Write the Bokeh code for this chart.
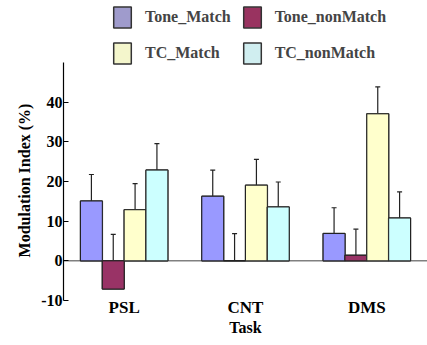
from bokeh.plotting import figure
from bokeh.models import (ColumnDataSource, FactorRange, Whisker, TeeHead, Span,
                          Legend, LegendItem)
from bokeh.transform import dodge
from bokeh.embed import file_html
from bokeh.resources import INLINE

tasks = ["PSL", "CNT", "DMS"]
series = ["Tone_Match", "Tone_nonMatch", "TC_Match", "TC_nonMatch"]
tone_match = [15.1, 16.3, 6.9]
tone_match_err = [6.7, 6.6, 6.5]
tone_nonmatch = [-7.1, 0.0, 1.4]
tone_nonmatch_err = [13.8, 6.9, 6.6]
tc_match = [12.9, 19.1, 37.1]
tc_match_err = [6.6, 6.5, 6.8]
tc_nonmatch = [22.9, 13.6, 10.8]
tc_nonmatch_err = [6.7, 6.3, 6.6]
y_ticks = [-10, 0, 10, 20, 30, 40]
y_tick_labels = ["-10", "0", "10", "20", "30", "40"]

values = [tone_match, tone_nonmatch, tc_match, tc_nonmatch]
errors = [tone_match_err, tone_nonmatch_err, tc_match_err, tc_nonmatch_err]
bar_colors = ["#9999ff", "#993366", "#ffffcc", "#ccffff"]
legend_colors = ["#9f9bcc", "#993360", "#f4f6cc", "#d0eef0"]
offsets = [-0.27, -0.09, 0.09, 0.27]
bar_w = 0.18

FONT = "Liberation Serif"

# frame spans whole height above x labels; axis itself bounded to -10..50
p = figure(width=427, height=345, x_range=FactorRange(*tasks, range_padding=0),
           y_range=(-10, 65.7), output_backend="svg", toolbar_location=None,
           min_border_left=63, min_border_right=0, min_border_top=0,
           min_border_bottom=45)
p.outline_line_color = None
p.xgrid.grid_line_color = None
p.ygrid.grid_line_color = None

zero = Span(location=0, dimension="width", line_color="#808080", line_width=1.5,
            level="underlay")
p.add_layout(zero)

legend_renderers = []
for s, vals, errs, col, lcol, off in zip(series, values, errors, bar_colors,
                                         legend_colors, offsets):
    src = ColumnDataSource(dict(task=tasks, val=vals,
                                upper=[v + e for v, e in zip(vals, errs)]))
    w = Whisker(source=src, base=dodge("task", off, range=p.x_range),
                lower="val", upper="upper", dimension="height",
                line_color="#222222", line_width=1.2, level="underlay",
                upper_head=TeeHead(size=5, line_color="#222222", line_width=1.2),
                lower_head=None)
    p.add_layout(w)
    # legend swatch renderer (same bars, hidden beneath the visible ones)
    lr = p.vbar(x=dodge("task", off, range=p.x_range), top="val", bottom=0,
                width=bar_w, source=src, fill_color=lcol, line_color="#333333",
                line_width=1.5)
    legend_renderers.append(lr)
    p.vbar(x=dodge("task", off, range=p.x_range), top="val", bottom=0,
           width=bar_w, source=src, fill_color=col, line_color="#222222",
           line_width=1)

order = [0, 2, 1, 3]
items = [LegendItem(label=series[i], renderers=[legend_renderers[i]]) for i in order]
legend = Legend(items=items, location=(48, 234), orientation="vertical", nrows=2,
                glyph_width=22, glyph_height=26, label_standoff=12, spacing=10,
                padding=0, margin=0, border_line_color=None,
                background_fill_alpha=0,
                label_text_font=FONT, label_text_font_style="bold",
                label_text_font_size="16px", label_height=26)
p.add_layout(legend)

p.yaxis.ticker = y_ticks
p.yaxis.major_label_overrides = dict(zip(y_ticks, y_tick_labels))
p.yaxis.bounds = (-10, 50)
# trailing no-break spaces shift the centred label down to the drawn axis part
p.yaxis.axis_label = "Modulation Index (%)" + "\u00a0" * 15
p.yaxis.major_tick_in = 5
p.yaxis.major_tick_out = 0
p.yaxis.minor_tick_line_color = None
p.yaxis.axis_line_color = "black"
p.yaxis.axis_line_width = 1.2
p.yaxis.major_tick_line_width = 1.2
p.yaxis.major_label_standoff = 1

p.xaxis.axis_label = "Task"
p.xaxis.axis_line_color = None
p.xaxis.major_tick_line_color = None
p.xaxis.minor_tick_line_color = None
p.xaxis.major_tick_out = 0
p.xaxis.major_tick_in = 0
p.xaxis.major_label_standoff = -3
p.xaxis.axis_label_standoff = -1

for ax in (p.xaxis, p.yaxis):
    ax.major_label_text_font = FONT
    ax.major_label_text_font_style = "bold"
    ax.major_label_text_font_size = "16px"
    ax.major_label_text_color = "black"
    ax.axis_label_text_font = FONT
    ax.axis_label_text_font_style = "bold"
    ax.axis_label_text_font_size = "16px"
    ax.axis_label_text_color = "black"

p.xaxis.major_label_text_font_size = "17px"

open("out.html", "w").write(file_html(p, INLINE))
